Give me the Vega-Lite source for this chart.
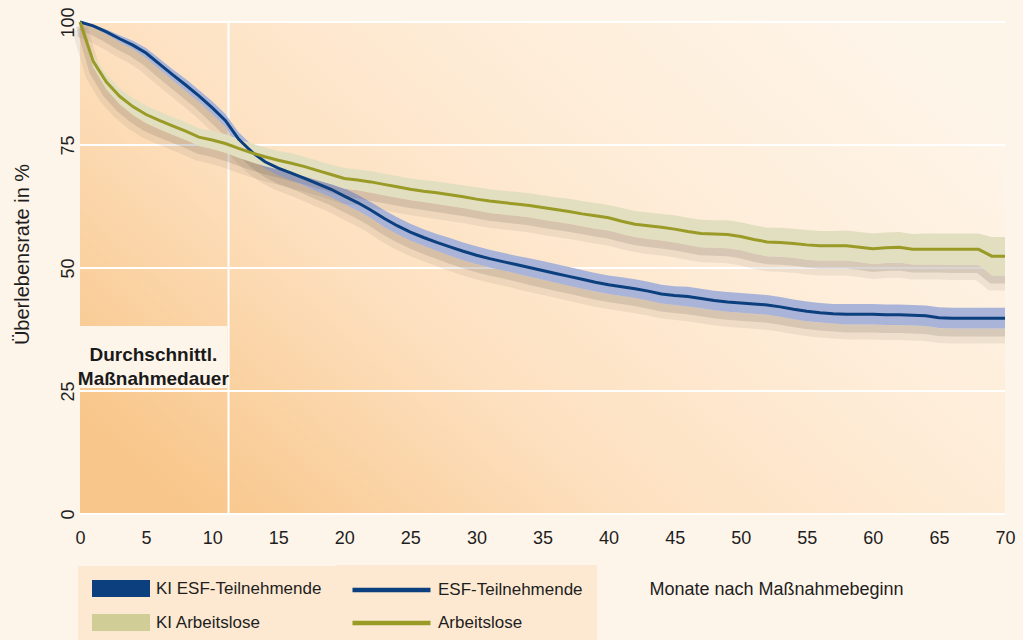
{
  "$schema": "https://vega.github.io/schema/vega-lite/v6.json",
  "width": 925,
  "height": 492,
  "autosize": "none",
  "padding": {"left": 80, "top": 22, "right": 18, "bottom": 126},
  "background": "#fef5ea",
  "view": {"stroke": null},
  "config": {
    "font": "Liberation Sans",
    "axis": {"domain": false, "ticks": false, "grid": false, "labelColor": "#1e1e1e", "titleColor": "#1e1e1e", "labelFontSize": 18, "titleFontSize": 18, "titleFontWeight": "normal"},
    "axisX": {"labelPadding": 15, "labelFlush": false, "titleX": 696, "titleY": 75, "titleAlign": "center", "titleBaseline": "middle"},
    "axisY": {"labelAngle": 270, "labelAlign": "center", "labelBaseline": "alphabetic", "labelPadding": 7, "titleAngle": 270, "titleX": -58, "titleY": 232, "titleAlign": "center", "titleBaseline": "middle", "titleFontSize": 20},
    "legend": {"labelFontSize": 17, "labelColor": "#1e1e1e", "labelLimit": 1000, "direction": "vertical", "orient": "none"}
  },
  "datasets": {
    "d": [
      {"s":"ESF-Teilnehmende","m":0,"v":100,"lo":100,"hi":100},
      {"s":"ESF-Teilnehmende","m":1,"v":99.2,"lo":98.9,"hi":99.5},
      {"s":"ESF-Teilnehmende","m":2,"v":98.0,"lo":97.5,"hi":98.5},
      {"s":"ESF-Teilnehmende","m":3,"v":96.6,"lo":95.9,"hi":97.3},
      {"s":"ESF-Teilnehmende","m":4,"v":95.3,"lo":94.5,"hi":96.2},
      {"s":"ESF-Teilnehmende","m":5,"v":93.7,"lo":92.7,"hi":94.7},
      {"s":"ESF-Teilnehmende","m":6,"v":91.5,"lo":90.4,"hi":92.6},
      {"s":"ESF-Teilnehmende","m":7,"v":89.3,"lo":88.2,"hi":90.4},
      {"s":"ESF-Teilnehmende","m":8,"v":87.2,"lo":86.0,"hi":88.4},
      {"s":"ESF-Teilnehmende","m":9,"v":85.0,"lo":83.8,"hi":86.2},
      {"s":"ESF-Teilnehmende","m":10,"v":82.6,"lo":81.3,"hi":83.9},
      {"s":"ESF-Teilnehmende","m":11,"v":80.0,"lo":78.7,"hi":81.3},
      {"s":"ESF-Teilnehmende","m":12,"v":76.2,"lo":74.8,"hi":77.6},
      {"s":"ESF-Teilnehmende","m":13,"v":73.6,"lo":72.2,"hi":75.0},
      {"s":"ESF-Teilnehmende","m":14,"v":71.6,"lo":70.2,"hi":73.0},
      {"s":"ESF-Teilnehmende","m":15,"v":70.3,"lo":68.8,"hi":71.8},
      {"s":"ESF-Teilnehmende","m":16,"v":69.3,"lo":67.8,"hi":70.8},
      {"s":"ESF-Teilnehmende","m":17,"v":68.2,"lo":66.7,"hi":69.7},
      {"s":"ESF-Teilnehmende","m":18,"v":67.1,"lo":65.5,"hi":68.7},
      {"s":"ESF-Teilnehmende","m":19,"v":66.0,"lo":64.4,"hi":67.6},
      {"s":"ESF-Teilnehmende","m":20,"v":64.6,"lo":63.0,"hi":66.2},
      {"s":"ESF-Teilnehmende","m":21,"v":63.3,"lo":61.7,"hi":64.9},
      {"s":"ESF-Teilnehmende","m":22,"v":61.8,"lo":60.2,"hi":63.4},
      {"s":"ESF-Teilnehmende","m":23,"v":60.1,"lo":58.4,"hi":61.8},
      {"s":"ESF-Teilnehmende","m":24,"v":58.6,"lo":56.9,"hi":60.3},
      {"s":"ESF-Teilnehmende","m":25,"v":57.3,"lo":55.6,"hi":59.0},
      {"s":"ESF-Teilnehmende","m":26,"v":56.2,"lo":54.5,"hi":57.9},
      {"s":"ESF-Teilnehmende","m":27,"v":55.2,"lo":53.5,"hi":56.9},
      {"s":"ESF-Teilnehmende","m":28,"v":54.3,"lo":52.5,"hi":56.1},
      {"s":"ESF-Teilnehmende","m":29,"v":53.4,"lo":51.6,"hi":55.2},
      {"s":"ESF-Teilnehmende","m":30,"v":52.6,"lo":50.8,"hi":54.4},
      {"s":"ESF-Teilnehmende","m":31,"v":51.9,"lo":50.1,"hi":53.7},
      {"s":"ESF-Teilnehmende","m":32,"v":51.3,"lo":49.5,"hi":53.1},
      {"s":"ESF-Teilnehmende","m":33,"v":50.7,"lo":48.9,"hi":52.5},
      {"s":"ESF-Teilnehmende","m":34,"v":50.1,"lo":48.2,"hi":52.0},
      {"s":"ESF-Teilnehmende","m":35,"v":49.5,"lo":47.6,"hi":51.4},
      {"s":"ESF-Teilnehmende","m":36,"v":48.9,"lo":47.0,"hi":50.8},
      {"s":"ESF-Teilnehmende","m":37,"v":48.3,"lo":46.4,"hi":50.2},
      {"s":"ESF-Teilnehmende","m":38,"v":47.7,"lo":45.8,"hi":49.6},
      {"s":"ESF-Teilnehmende","m":39,"v":47.1,"lo":45.2,"hi":49.0},
      {"s":"ESF-Teilnehmende","m":40,"v":46.6,"lo":44.7,"hi":48.5},
      {"s":"ESF-Teilnehmende","m":41,"v":46.2,"lo":44.3,"hi":48.1},
      {"s":"ESF-Teilnehmende","m":42,"v":45.8,"lo":43.9,"hi":47.7},
      {"s":"ESF-Teilnehmende","m":43,"v":45.3,"lo":43.4,"hi":47.2},
      {"s":"ESF-Teilnehmende","m":44,"v":44.7,"lo":42.8,"hi":46.6},
      {"s":"ESF-Teilnehmende","m":45,"v":44.4,"lo":42.5,"hi":46.3},
      {"s":"ESF-Teilnehmende","m":46,"v":44.2,"lo":42.2,"hi":46.2},
      {"s":"ESF-Teilnehmende","m":47,"v":43.8,"lo":41.8,"hi":45.8},
      {"s":"ESF-Teilnehmende","m":48,"v":43.4,"lo":41.4,"hi":45.4},
      {"s":"ESF-Teilnehmende","m":49,"v":43.1,"lo":41.1,"hi":45.1},
      {"s":"ESF-Teilnehmende","m":50,"v":42.9,"lo":40.9,"hi":44.9},
      {"s":"ESF-Teilnehmende","m":51,"v":42.7,"lo":40.7,"hi":44.7},
      {"s":"ESF-Teilnehmende","m":52,"v":42.5,"lo":40.5,"hi":44.5},
      {"s":"ESF-Teilnehmende","m":53,"v":42.1,"lo":40.1,"hi":44.1},
      {"s":"ESF-Teilnehmende","m":54,"v":41.6,"lo":39.6,"hi":43.6},
      {"s":"ESF-Teilnehmende","m":55,"v":41.2,"lo":39.2,"hi":43.2},
      {"s":"ESF-Teilnehmende","m":56,"v":40.9,"lo":38.9,"hi":42.9},
      {"s":"ESF-Teilnehmende","m":57,"v":40.7,"lo":38.7,"hi":42.7},
      {"s":"ESF-Teilnehmende","m":58,"v":40.6,"lo":38.5,"hi":42.7},
      {"s":"ESF-Teilnehmende","m":59,"v":40.6,"lo":38.5,"hi":42.7},
      {"s":"ESF-Teilnehmende","m":60,"v":40.6,"lo":38.5,"hi":42.7},
      {"s":"ESF-Teilnehmende","m":61,"v":40.5,"lo":38.4,"hi":42.6},
      {"s":"ESF-Teilnehmende","m":62,"v":40.5,"lo":38.4,"hi":42.6},
      {"s":"ESF-Teilnehmende","m":63,"v":40.4,"lo":38.3,"hi":42.5},
      {"s":"ESF-Teilnehmende","m":64,"v":40.3,"lo":38.2,"hi":42.4},
      {"s":"ESF-Teilnehmende","m":65,"v":39.9,"lo":37.8,"hi":42.0},
      {"s":"ESF-Teilnehmende","m":66,"v":39.8,"lo":37.7,"hi":41.9},
      {"s":"ESF-Teilnehmende","m":67,"v":39.8,"lo":37.7,"hi":41.9},
      {"s":"ESF-Teilnehmende","m":68,"v":39.8,"lo":37.7,"hi":41.9},
      {"s":"ESF-Teilnehmende","m":69,"v":39.8,"lo":37.7,"hi":41.9},
      {"s":"ESF-Teilnehmende","m":70,"v":39.8,"lo":37.7,"hi":41.9},
      {"s":"Arbeitslose","m":0,"v":100,"lo":100,"hi":100},
      {"s":"Arbeitslose","m":1,"v":92.0,"lo":90.8,"hi":93.2},
      {"s":"Arbeitslose","m":2,"v":87.8,"lo":86.3,"hi":89.3},
      {"s":"Arbeitslose","m":3,"v":84.9,"lo":83.3,"hi":86.5},
      {"s":"Arbeitslose","m":4,"v":82.8,"lo":81.1,"hi":84.5},
      {"s":"Arbeitslose","m":5,"v":81.2,"lo":79.4,"hi":83.0},
      {"s":"Arbeitslose","m":6,"v":80.0,"lo":78.2,"hi":81.8},
      {"s":"Arbeitslose","m":7,"v":78.9,"lo":77.1,"hi":80.7},
      {"s":"Arbeitslose","m":8,"v":77.8,"lo":76.0,"hi":79.6},
      {"s":"Arbeitslose","m":9,"v":76.6,"lo":74.8,"hi":78.4},
      {"s":"Arbeitslose","m":10,"v":76.0,"lo":74.2,"hi":77.9},
      {"s":"Arbeitslose","m":11,"v":75.3,"lo":73.4,"hi":77.2},
      {"s":"Arbeitslose","m":12,"v":74.3,"lo":72.4,"hi":76.2},
      {"s":"Arbeitslose","m":13,"v":73.4,"lo":71.5,"hi":75.3},
      {"s":"Arbeitslose","m":14,"v":72.6,"lo":70.7,"hi":74.5},
      {"s":"Arbeitslose","m":15,"v":71.9,"lo":70.0,"hi":73.8},
      {"s":"Arbeitslose","m":16,"v":71.3,"lo":69.3,"hi":73.3},
      {"s":"Arbeitslose","m":17,"v":70.6,"lo":68.6,"hi":72.6},
      {"s":"Arbeitslose","m":18,"v":69.8,"lo":67.8,"hi":71.8},
      {"s":"Arbeitslose","m":19,"v":69.0,"lo":67.0,"hi":71.0},
      {"s":"Arbeitslose","m":20,"v":68.2,"lo":66.1,"hi":70.3},
      {"s":"Arbeitslose","m":21,"v":67.9,"lo":65.8,"hi":70.0},
      {"s":"Arbeitslose","m":22,"v":67.5,"lo":65.3,"hi":69.7},
      {"s":"Arbeitslose","m":23,"v":67.0,"lo":64.8,"hi":69.2},
      {"s":"Arbeitslose","m":24,"v":66.5,"lo":64.3,"hi":68.7},
      {"s":"Arbeitslose","m":25,"v":66.0,"lo":63.8,"hi":68.2},
      {"s":"Arbeitslose","m":26,"v":65.6,"lo":63.4,"hi":67.9},
      {"s":"Arbeitslose","m":27,"v":65.3,"lo":63.0,"hi":67.6},
      {"s":"Arbeitslose","m":28,"v":64.9,"lo":62.6,"hi":67.2},
      {"s":"Arbeitslose","m":29,"v":64.5,"lo":62.2,"hi":66.8},
      {"s":"Arbeitslose","m":30,"v":64.0,"lo":61.7,"hi":66.4},
      {"s":"Arbeitslose","m":31,"v":63.6,"lo":61.2,"hi":66.0},
      {"s":"Arbeitslose","m":32,"v":63.3,"lo":60.9,"hi":65.7},
      {"s":"Arbeitslose","m":33,"v":63.0,"lo":60.6,"hi":65.5},
      {"s":"Arbeitslose","m":34,"v":62.7,"lo":60.3,"hi":65.2},
      {"s":"Arbeitslose","m":35,"v":62.3,"lo":59.8,"hi":64.8},
      {"s":"Arbeitslose","m":36,"v":61.9,"lo":59.4,"hi":64.4},
      {"s":"Arbeitslose","m":37,"v":61.5,"lo":59.0,"hi":64.1},
      {"s":"Arbeitslose","m":38,"v":61.0,"lo":58.5,"hi":63.6},
      {"s":"Arbeitslose","m":39,"v":60.6,"lo":58.0,"hi":63.2},
      {"s":"Arbeitslose","m":40,"v":60.2,"lo":57.6,"hi":62.8},
      {"s":"Arbeitslose","m":41,"v":59.5,"lo":56.9,"hi":62.2},
      {"s":"Arbeitslose","m":42,"v":58.9,"lo":56.3,"hi":61.6},
      {"s":"Arbeitslose","m":43,"v":58.6,"lo":55.9,"hi":61.3},
      {"s":"Arbeitslose","m":44,"v":58.3,"lo":55.6,"hi":61.0},
      {"s":"Arbeitslose","m":45,"v":57.9,"lo":55.2,"hi":60.7},
      {"s":"Arbeitslose","m":46,"v":57.4,"lo":54.7,"hi":60.2},
      {"s":"Arbeitslose","m":47,"v":57.0,"lo":54.2,"hi":59.8},
      {"s":"Arbeitslose","m":48,"v":56.9,"lo":54.1,"hi":59.7},
      {"s":"Arbeitslose","m":49,"v":56.8,"lo":54.0,"hi":59.7},
      {"s":"Arbeitslose","m":50,"v":56.4,"lo":53.6,"hi":59.3},
      {"s":"Arbeitslose","m":51,"v":55.8,"lo":52.9,"hi":58.7},
      {"s":"Arbeitslose","m":52,"v":55.3,"lo":52.4,"hi":58.2},
      {"s":"Arbeitslose","m":53,"v":55.2,"lo":52.3,"hi":58.2},
      {"s":"Arbeitslose","m":54,"v":55.0,"lo":52.1,"hi":58.0},
      {"s":"Arbeitslose","m":55,"v":54.7,"lo":51.7,"hi":57.7},
      {"s":"Arbeitslose","m":56,"v":54.5,"lo":51.5,"hi":57.5},
      {"s":"Arbeitslose","m":57,"v":54.5,"lo":51.5,"hi":57.5},
      {"s":"Arbeitslose","m":58,"v":54.5,"lo":51.5,"hi":57.6},
      {"s":"Arbeitslose","m":59,"v":54.2,"lo":51.2,"hi":57.3},
      {"s":"Arbeitslose","m":60,"v":53.9,"lo":50.8,"hi":57.0},
      {"s":"Arbeitslose","m":61,"v":54.1,"lo":51.0,"hi":57.2},
      {"s":"Arbeitslose","m":62,"v":54.2,"lo":51.1,"hi":57.3},
      {"s":"Arbeitslose","m":63,"v":53.8,"lo":50.7,"hi":56.9},
      {"s":"Arbeitslose","m":64,"v":53.8,"lo":50.7,"hi":57.0},
      {"s":"Arbeitslose","m":65,"v":53.8,"lo":50.7,"hi":57.0},
      {"s":"Arbeitslose","m":66,"v":53.8,"lo":50.6,"hi":57.0},
      {"s":"Arbeitslose","m":67,"v":53.8,"lo":50.6,"hi":57.0},
      {"s":"Arbeitslose","m":68,"v":53.8,"lo":50.6,"hi":57.0},
      {"s":"Arbeitslose","m":69,"v":52.4,"lo":48.5,"hi":56.3},
      {"s":"Arbeitslose","m":70,"v":52.4,"lo":48.5,"hi":56.3}
    ]
  },
  "layer": [
    {
      "data": {"values": [{}]},
      "mark": {"type": "rect", "color": {"gradient": "linear", "x1": 0, "y1": 0.8, "x2": 1, "y2": 0.2,
        "stops": [{"offset": 0, "color": "#f8c68a"}, {"offset": 0.35, "color": "#fde0bf"}, {"offset": 0.65, "color": "#feecd7"}, {"offset": 1, "color": "#fef5e9"}]}},
      "encoding": {
        "x": {"datum": 0, "type": "quantitative", "title": "Monate nach Maßnahmebeginn"}, "x2": {"datum": 70},
        "y": {"datum": 0, "type": "quantitative", "title": "Überlebensrate in %"}, "y2": {"datum": 100}
      }
    },
    {"data": {"values": [{}]}, "mark": {"type": "rule", "color": "#ffffff", "strokeWidth": 2}, "encoding": {"y": {"datum": 0, "type": "quantitative", "title": "Überlebensrate in %"}}},
    {"data": {"values": [{}]}, "mark": {"type": "rule", "color": "#ffffff", "strokeWidth": 2}, "encoding": {"y": {"datum": 25, "type": "quantitative", "title": "Überlebensrate in %"}}},
    {"data": {"values": [{}]}, "mark": {"type": "rule", "color": "#ffffff", "strokeWidth": 2}, "encoding": {"y": {"datum": 50, "type": "quantitative", "title": "Überlebensrate in %"}}},
    {"data": {"values": [{}]}, "mark": {"type": "rule", "color": "#ffffff", "strokeWidth": 2}, "encoding": {"y": {"datum": 75, "type": "quantitative", "title": "Überlebensrate in %"}}},
    {"data": {"values": [{}]}, "mark": {"type": "rule", "color": "#ffffff", "strokeWidth": 2}, "encoding": {"y": {"datum": 100, "type": "quantitative", "title": "Überlebensrate in %"}}},
    {
      "data": {"values": [{}]},
      "mark": {"type": "rule", "color": "#ffffff", "strokeWidth": 2},
      "encoding": {"x": {"datum": 11.24, "type": "quantitative", "title": "Monate nach Maßnahmebeginn"}}
    },
    {
      "data": {"values": [{}]},
      "mark": {"type": "rect", "color": "#fef5ea"},
      "encoding": {
        "x": {"datum": -0.1, "type": "quantitative", "title": "Monate nach Maßnahmebeginn"}, "x2": {"datum": 11.15},
        "y": {"datum": 25.6, "type": "quantitative", "title": "Überlebensrate in %"}, "y2": {"datum": 38.2}
      }
    },
    {
      "data": {"values": [{}]},
      "mark": {"type": "text", "text": ["Durchschnittl.", "Maßnahmedauer"], "fontWeight": "bold", "fontSize": 19, "lineHeight": 23.5, "color": "#1a1a1a", "align": "center", "baseline": "middle"},
      "encoding": {
        "x": {"datum": 5.55, "type": "quantitative", "title": "Monate nach Maßnahmebeginn"},
        "y": {"datum": 32.3, "type": "quantitative", "title": "Überlebensrate in %"}
      }
    },
    {
      "data": {"name": "d"},
      "transform": [{"filter": "false"}],
      "mark": {"type": "point", "filled": true, "opacity": 1},
      "encoding": {
        "x": {"field": "m", "type": "quantitative", "title": "Monate nach Maßnahmebeginn"},
        "y": {"field": "v", "type": "quantitative", "title": "Überlebensrate in %"},
        "fill": {
          "field": "s", "type": "nominal",
          "scale": {"domain": ["KI ESF-Teilnehmende", "KI Arbeitslose"], "range": ["#0b3f7d", "#d1cd97"]},
          "legend": {
            "legendX": -2, "legendY": 544, "title": null,
            "fillColor": "#fde9d2", "padding": 14, "rowPadding": 16,
            "symbolType": "M-1,-1H5.824V1H-1Z", "symbolSize": 289, "symbolStrokeWidth": 0, "symbolOpacity": 1,
            "labelOffset": 47
          }
        }
      }
    },
    {
      "data": {"name": "d"},
      "transform": [{"filter": "datum.s === 'ESF-Teilnehmende'"}],
      "mark": {"type": "line", "color": "#5e5044", "strokeWidth": 16, "opacity": 0.09},
      "encoding": {"x": {"field": "m", "type": "quantitative", "title": "Monate nach Maßnahmebeginn"}, "y": {"field": "lo", "type": "quantitative", "title": "Überlebensrate in %"}, "yOffset": {"value": 7}}
    },
    {
      "data": {"name": "d"},
      "transform": [{"filter": "datum.s === 'ESF-Teilnehmende'"}],
      "mark": {"type": "line", "color": "#5e5044", "strokeWidth": 8, "opacity": 0.16},
      "encoding": {"x": {"field": "m", "type": "quantitative", "title": "Monate nach Maßnahmebeginn"}, "y": {"field": "lo", "type": "quantitative", "title": "Überlebensrate in %"}, "yOffset": {"value": 4}}
    },
    {
      "data": {"name": "d"},
      "transform": [{"filter": "datum.s === 'ESF-Teilnehmende'"}],
      "mark": {"type": "area", "color": "#aab4d9"},
      "encoding": {
        "x": {"field": "m", "type": "quantitative", "title": "Monate nach Maßnahmebeginn"},
        "y": {"field": "lo", "type": "quantitative", "title": "Überlebensrate in %"},
        "y2": {"field": "hi"}
      }
    },
    {
      "data": {"name": "d"},
      "transform": [{"filter": "datum.s === 'Arbeitslose'"}],
      "mark": {"type": "line", "color": "#5e5044", "strokeWidth": 16, "opacity": 0.09},
      "encoding": {"x": {"field": "m", "type": "quantitative", "title": "Monate nach Maßnahmebeginn"}, "y": {"field": "lo", "type": "quantitative", "title": "Überlebensrate in %"}, "yOffset": {"value": 7}}
    },
    {
      "data": {"name": "d"},
      "transform": [{"filter": "datum.s === 'Arbeitslose'"}],
      "mark": {"type": "line", "color": "#5e5044", "strokeWidth": 8, "opacity": 0.16},
      "encoding": {"x": {"field": "m", "type": "quantitative", "title": "Monate nach Maßnahmebeginn"}, "y": {"field": "lo", "type": "quantitative", "title": "Überlebensrate in %"}, "yOffset": {"value": 4}}
    },
    {
      "data": {"name": "d"},
      "transform": [{"filter": "datum.s === 'Arbeitslose'"}],
      "mark": {"type": "area", "color": "#e2dfc0"},
      "encoding": {
        "x": {"field": "m", "type": "quantitative", "title": "Monate nach Maßnahmebeginn"},
        "y": {"field": "lo", "type": "quantitative", "title": "Überlebensrate in %"},
        "y2": {"field": "hi"}
      }
    },
    {
      "data": {"name": "d"},
      "mark": {"type": "line", "strokeWidth": 3},
      "encoding": {
        "x": {"field": "m", "type": "quantitative", "scale": {"domain": [0, 70], "nice": false}, "title": "Monate nach Maßnahmebeginn", "axis": {"values": [0, 5, 10, 15, 20, 25, 30, 35, 40, 45, 50, 55, 60, 65, 70]}},
        "y": {"field": "v", "type": "quantitative", "title": "Überlebensrate in %", "scale": {"domain": [0, 100], "nice": false}, "axis": {"values": [0, 25, 50, 75, 100]}},
        "color": {
          "field": "s", "type": "nominal",
          "scale": {"domain": ["ESF-Teilnehmende", "Arbeitslose"], "range": ["#0b3f7d", "#9a9a26"]},
          "legend": {
            "legendX": 256, "legendY": 543, "title": null, "padding": 14, "rowPadding": 13,
            "fillColor": "#fde9d2",
            "symbolType": "M-1,0H8.176", "symbolSize": 289, "symbolStrokeWidth": 4.4, "symbolOpacity": 1,
            "labelOffset": 66
          }
        }
      }
    }
  ]
}
